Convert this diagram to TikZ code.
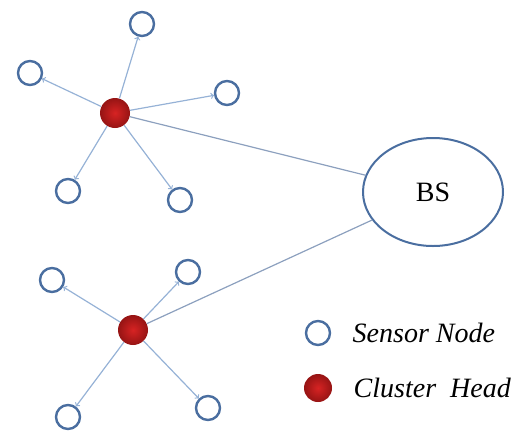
\documentclass[tikz,border=0pt]{standalone}
\usepackage{fontspec}
\setmainfont{Liberation Serif}
\usetikzlibrary{positioning,shapes.geometric}
\definecolor{sensorblue}{RGB}{74,110,160}
\definecolor{linkblue}{RGB}{150,178,214}
\definecolor{tieblue}{RGB}{140,160,190}
\definecolor{headred}{RGB}{215,35,35}
\definecolor{headrim}{RGB}{150,20,20}

\begin{document}
\begin{tikzpicture}[x=1pt, y=-1pt,
    sensornode/.style={circle, draw=sensorblue, line width=2.4pt, minimum size=24pt, inner sep=0pt},
    headnode/.style={circle, inner color=headred, outer color=headrim, minimum size=30pt, inner sep=0pt},
    bsnode/.style={ellipse, draw=sensorblue, line width=2pt, minimum width=140pt, minimum height=108pt, inner sep=0pt},
    link/.style={->, draw=linkblue, line width=1.2pt},
    tie/.style={draw=tieblue, line width=1.2pt},
    ]
    \useasboundingbox (0,0) rectangle (532,437);
    \tikzstyle{every node}=[font=\fontsize{28}{32}\selectfont]
    %Nodes
    \node[headnode]   (chup)   at (115,113) {};
    \node[sensornode] (su1)    at (142,24)  {};
    \node[sensornode] (su2)    at (30,73)   {};
    \node[sensornode] (su3)    at (227,93)  {};
    \node[sensornode] (su4)    at (68,191)  {};
    \node[sensornode] (su5)    at (180,200) {};
    \node[headnode]   (chlow)  at (133,330) {};
    \node[sensornode] (sl1)    at (52,280)  {};
    \node[sensornode] (sl2)    at (188,272) {};
    \node[sensornode] (sl3)    at (68,417)  {};
    \node[sensornode] (sl4)    at (208,408) {};
    \node[bsnode]     (bs)     at (433,192) {BS};
    % legend
    \node[sensornode] (legsensor) at (318,333) {};
    \node[headnode, minimum size=28pt] (leghead) at (318,388) {};
    \node[right=18pt of legsensor] (legsensortxt) {\itshape Sensor Node};
    \node[right=18pt of leghead]   (legheadtxt)   {\itshape Cluster\ \ Head};

    %Lines
    \foreach \s in {su1,su2,su3,su4,su5}
        \draw[link] (chup) -- (\s);
    \foreach \s in {sl1,sl2,sl3,sl4}
        \draw[link] (chlow) -- (\s);
    \draw[tie] (chup) -- (bs);
    \draw[tie] (chlow) -- (bs);
\end{tikzpicture}
\end{document}
